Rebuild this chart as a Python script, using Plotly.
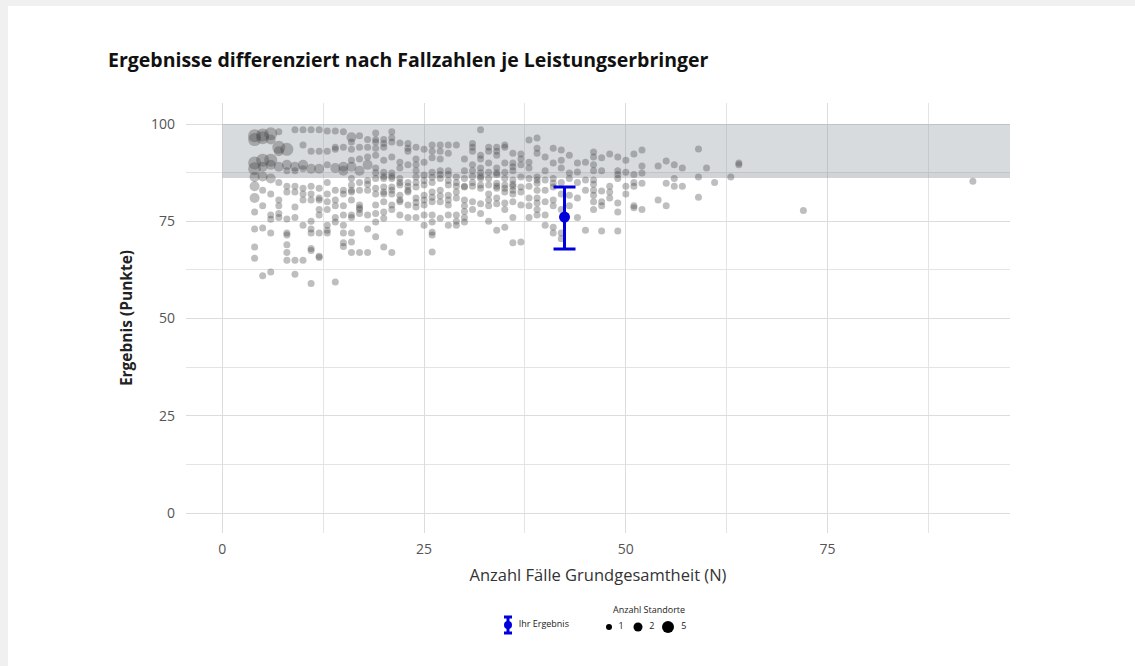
import plotly.graph_objects as go

fallzahl = [
    4, 4, 4, 4, 4, 4, 4, 4, 4, 4, 4,
    5, 5, 5, 5, 5, 5, 5, 5, 5,
    6, 6, 6, 6, 6, 6, 6, 6, 6, 6,
    7, 7, 7, 7, 7, 7, 7, 7, 7,
    8, 8, 8, 8, 8, 8, 8, 8, 8, 8, 8,
    9, 9, 9, 9, 9, 9, 9, 9, 9,
    10, 10, 10, 10, 10, 10, 10, 10, 10,
    11, 11, 11, 11, 11, 11, 11, 11, 11, 11, 11, 11,
    12, 12, 12, 12, 12, 12, 12, 12, 12, 12, 12,
    13, 13, 13, 13, 13, 13, 13, 13, 13, 13,
    14, 14, 14, 14, 14, 14, 14, 14, 14, 14,
    15, 15, 15, 15, 15, 15, 15, 15, 15, 15, 15, 15,
    16, 16, 16, 16, 16, 16, 16, 16, 16, 16, 16, 16, 16, 16, 16,
    17, 17, 17, 17, 17, 17, 17, 17, 17, 17, 17,
    18, 18, 18, 18, 18, 18, 18, 18, 18, 18,
    19, 19, 19, 19, 19, 19, 19, 19, 19, 19, 19, 19, 19, 19,
    20, 20, 20, 20, 20, 20, 20, 20, 20, 20, 20, 20, 20, 20,
    21, 21, 21, 21, 21, 21, 21, 21, 21, 21, 21, 21, 21,
    22, 22, 22, 22, 22, 22, 22, 22, 22, 22, 22,
    23, 23, 23, 23, 23, 23, 23, 23, 23, 23,
    24, 24, 24, 24, 24, 24, 24, 24, 24, 24, 24,
    25, 25, 25, 25, 25, 25, 25, 25, 25, 25,
    26, 26, 26, 26, 26, 26, 26, 26, 26, 26, 26, 26, 26, 26,
    27, 27, 27, 27, 27, 27, 27, 27, 27, 27,
    28, 28, 28, 28, 28, 28, 28, 28, 28, 28, 28,
    29, 29, 29, 29, 29, 29, 29, 29, 29,
    30, 30, 30, 30, 30, 30, 30, 30, 30, 30,
    31, 31, 31, 31, 31, 31, 31, 31, 31, 31,
    32, 32, 32, 32, 32, 32, 32, 32, 32, 32, 32,
    33, 33, 33, 33, 33, 33, 33, 33, 33, 33,
    34, 34, 34, 34, 34, 34, 34, 34, 34, 34, 34, 34,
    35, 35, 35, 35, 35, 35, 35, 35, 35, 35, 35,
    36, 36, 36, 36, 36, 36, 36, 36, 36, 36, 36, 36,
    37, 37, 37, 37, 37, 37, 37, 37,
    38, 38, 38, 38, 38, 38, 38, 38,
    39, 39, 39, 39, 39, 39, 39, 39, 39, 39, 39,
    40, 40, 40, 40, 40, 40, 40,
    41, 41, 41, 41, 41, 41, 41, 41, 41,
    42, 42, 42, 42, 42, 42, 42, 42,
    43, 43, 43, 43, 43,
    44, 44, 44, 44, 44,
    45, 45, 45, 45,
    46, 46, 46, 46, 46, 46, 46, 46, 46, 46,
    47, 47, 47, 47, 47, 47,
    48, 48, 48, 48,
    49, 49, 49, 49, 49, 49, 49,
    50, 50, 50, 50,
    51, 51, 51, 51, 51, 51,
    52, 52, 52, 52, 52,
    54, 54,
    55, 55, 55,
    56, 56, 56,
    57, 57,
    59, 59, 59,
    60,
    61,
    63,
    64, 64,
    72,
    93,
]

# Ergebnis in Punkten, gleiche Reihenfolge wie fallzahl
ergebnis = [
    97, 96, 90, 88.5, 86.4, 84, 81, 77.4, 73, 68.4, 65.5,
    97.2, 96.5, 90.7, 89, 86.5, 83, 79, 73.3, 61,
    97.5, 96, 90.7, 89.5, 86, 82, 76.6, 75.5, 72, 62,
    98, 94, 93, 89, 85, 80.5, 79, 77, 76,
    93.5, 89.5, 88, 84, 82.5, 75.6, 72, 71.5, 69, 67, 65,
    98.5, 89, 88, 84, 82.5, 78.7, 76, 65, 61.4,
    98.5, 94.6, 89.5, 88.5, 83.5, 82, 80.5, 74, 65,
    98.5, 93, 88.5, 84, 82, 80.5, 75, 73, 72, 68, 67.5, 59,
    98.5, 93, 88.5, 83.5, 81, 80.5, 78, 76.6, 72, 66, 65.7,
    98.2, 93, 89.5, 85, 82, 80, 78, 74, 72.7, 72,
    98.2, 94, 93.5, 88.7, 83, 80.5, 79, 76, 74.8, 59.4,
    98, 94, 89, 88, 83, 82, 79, 76.6, 74, 72, 69.5, 68.5,
    96.6, 95.4, 93.5, 90.7, 89, 86, 84.3, 83, 82.5, 80.5, 76.6, 76, 72, 69.7, 67,
    97, 94, 91, 88, 85, 83, 79.2, 78.5, 78, 77, 67,
    96, 94, 91.5, 89.5, 85.5, 84.5, 83, 76.6, 73, 67,
    97.7, 96, 95.4, 93.8, 92, 88.7, 87.5, 86, 83.5, 82, 79.2, 77, 74.8, 71,
    96, 95, 94, 90.7, 87.6, 86.5, 86, 83.8, 82.5, 82, 80, 77.4, 75.8, 68.4,
    98, 96.5, 95.4, 91.5, 87.4, 86.5, 86, 83.8, 83, 82, 79.2, 78, 67,
    95.1, 90.2, 88.7, 86, 85, 84.3, 81.7, 80.5, 80, 76.6, 72.2,
    95, 93.8, 93, 89.5, 85, 84, 83, 82.5, 79.2, 76,
    94, 91, 89.5, 88, 86.4, 85, 83.8, 81, 79.8, 78.7, 76,
    93.5, 90.2, 86.9, 85.5, 84.3, 81.7, 80.5, 79.2, 76.6, 74,
    94.6, 93, 91.3, 87.6, 86.3, 85, 82.5, 81.2, 80, 76.6, 74.8, 72.2, 71.5, 67.1,
    94.6, 93, 91, 88, 87, 86, 83, 81.5, 80, 75.8,
    94.6, 92.5, 88, 87, 85.5, 84.3, 81.7, 80.5, 79.2, 76.6, 74,
    94.6, 86.4, 85, 84, 82.5, 81, 76.6, 75, 74,
    91, 88, 86, 84, 83.8, 80.5, 79, 77.5, 76, 74.8,
    95, 94, 93, 89.5, 88, 86.5, 85, 84, 80, 78,
    98.5, 92, 91, 88.7, 87.5, 86.5, 86, 84.3, 83.5, 79.5, 77,
    94, 93, 90, 87.6, 86, 84.3, 82, 80.5, 79, 75,
    94, 93, 92, 88.7, 87.5, 87, 84.8, 84, 83.5, 81, 79.5, 72.7,
    94.6, 94, 90, 87.6, 86, 84.3, 83.5, 82.5, 79.7, 78, 73.5,
    92.5, 90, 89, 88, 85.6, 84.5, 84, 83, 82, 80, 76, 69.5,
    92.3, 91, 89.5, 86.4, 83.8, 82.5, 79.2, 69.7,
    95.9, 90.2, 88.7, 86, 84, 81, 79, 76,
    96.4, 93.8, 92.5, 86.4, 85.6, 84.8, 83, 81, 79.7, 78, 76.6,
    91.5, 88, 85.6, 83, 80, 76.6, 74,
    93.8, 90, 86, 84.8, 83.8, 80.5, 79, 73.5, 72,
    93.3, 90.7, 88.7, 85, 82, 78, 72, 70.5,
    92, 87.4, 86, 81.7, 79,
    90, 87.7, 85, 81, 76,
    90.2, 85.6, 83, 72.7,
    92.8, 91.5, 89.5, 88, 85.6, 84.5, 83, 81.7, 80, 78,
    91.3, 88, 82.8, 80, 79, 72.5,
    92.3, 84, 82.5, 81,
    91.5, 88, 87, 86, 79.7, 77.4, 72.5,
    90.7, 87.6, 84, 82,
    92.3, 87, 85, 84, 79, 78.5,
    93.3, 89.2, 87.4, 84.8, 78,
    89.2, 80.5,
    90.5, 84.8, 79,
    89.5, 86, 84,
    88.7, 84,
    93.6, 86.4, 81.2,
    88.7,
    85,
    86.4,
    90, 89.5,
    77.8,
    85.3,
]

# Anzahl Standorte je Leistungserbringer (ab N = 19 nur noch 1)
standorte = [
    5, 5, 5, 5, 2, 2, 2, 1, 1, 1, 1,
    5, 5, 5, 2, 2, 1, 1, 1, 1,
    5, 2, 5, 2, 2, 1, 1, 1, 1, 1,
    1, 5, 2, 2, 1, 1, 1, 1, 1,
    5, 2, 1, 1, 1, 1, 1, 1, 1, 1, 1,
    1, 2, 1, 1, 1, 1, 1, 1, 1,
    1, 1, 2, 1, 1, 1, 1, 1, 1,
    1, 1, 2, 1, 1, 1, 1, 1, 1, 1, 1, 1,
    1, 1, 2, 1, 1, 1, 1, 1, 1, 1, 1,
    1, 1, 1, 1, 1, 1, 1, 1, 1, 1,
    1, 1, 1, 2, 1, 1, 1, 1, 1, 1,
    1, 1, 2, 2, 1, 1, 1, 1, 1, 1, 1, 1,
    2, 1, 1, 1, 2, 1, 1, 1, 1, 1, 1, 1, 1, 1, 1,
    1, 1, 1, 2, 1, 1, 1, 1, 1, 1, 1,
    1, 1, 1, 2, 1, 1, 1, 1, 1, 1,
]
standorte = standorte + [1] * (len(fallzahl) - len(standorte))

# Ihr Ergebnis mit Vertrauensbereich
ihr_n = 42.4
ihr_ergebnis = 76.1
ihr_ci = [67.9, 83.8]

# Referenzbereich (grau hinterlegt)
referenz = [86.1, 100]

legende_standorte = [1, 2, 5]

assert len(fallzahl) == len(ergebnis) == len(standorte)

# ---- Layout-Konstanten (Pixel im 1135x666-Bild)
W, H = 1135, 666
punktgroesse = {1: 7, 2: 10, 5: 13}
blau = "#0000dd"
schrift = "Open Sans"
nbsp = "\u00a0"
band = "rgba(144,152,161,0.35)"

fig = go.Figure()

fig.add_trace(
    go.Scatter(
        x=fallzahl,
        y=ergebnis,
        mode="markers",
        marker=dict(
            size=[punktgroesse[s] for s in standorte],
            color="rgba(70,70,70,0.5)",
            line=dict(width=0)
        ),
        showlegend=False
    )
)

fig.add_trace(
    go.Scatter(
        x=[ihr_n],
        y=[ihr_ergebnis],
        mode="markers",
        marker=dict(size=11, color=blau),
        error_y=dict(
            type="data",
            symmetric=False,
            array=[ihr_ci[1] - ihr_ergebnis],
            arrayminus=[ihr_ergebnis - ihr_ci[0]],
            color=blau,
            thickness=3,
            width=11
        ),
        showlegend=False
    )
)

# ---- Legende unten (eigene, unsichtbare Achse in Pixeln)
fig.add_trace(
    go.Scatter(
        x=[508],
        y=[625],
        xaxis="x2",
        yaxis="y2",
        mode="markers+text",
        marker=dict(size=8, color=blau, opacity=1),
        error_y=dict(type="constant", value=8, color=blau, thickness=3, width=4),
        text=[nbsp * 2 + "Ihr Ergebnis"],
        textposition="middle right",
        textfont=dict(size=9, color="#222222"),
        showlegend=False,
        hoverinfo="skip"
    )
)

fig.add_trace(
    go.Scatter(
        x=[609, 638, 668],
        y=[627, 627, 627],
        xaxis="x2",
        yaxis="y2",
        mode="markers+text",
        marker=dict(
            size=[punktgroesse[s] - 1 for s in legende_standorte],
            color="#000000",
            opacity=1,
            line=dict(width=0)
        ),
        text=[nbsp * 2 + str(s) for s in legende_standorte],
        textposition="middle right",
        textfont=dict(size=9, color="#222222"),
        showlegend=False,
        hoverinfo="skip"
    )
)

fig.add_annotation(
    xref="x2", yref="y2", x=649, y=609,
    text="Anzahl Standorte", showarrow=False,
    font=dict(size=9, color="#222222")
)

# Referenzbereich (halbtransparent über den Gitterlinien)
fig.add_shape(
    type="rect", xref="x", yref="y",
    x0=0, x1=200, y0=referenz[0], y1=referenz[1],
    fillcolor=band, line_width=0, layer="between"
)
fig.add_shape(
    type="rect", xref="x", yref="y",
    x0=0, x1=200, y0=referenz[0], y1=87.6,
    fillcolor="rgba(144,152,161,0.1)", line_width=0, layer="between"
)

# weisses Blatt mit grauem Rand oben/links
fig.add_shape(
    type="rect", xref="paper", yref="paper",
    x0=8 / W, x1=1.1, y0=-0.1, y1=1 - 6 / H,
    fillcolor="white", line_width=0, layer="below"
)

fig.update_layout(
    width=W,
    height=H,
    margin=dict(l=0, r=0, t=0, b=0),
    paper_bgcolor="#f0f0f0",
    plot_bgcolor="rgba(0,0,0,0)",
    font=dict(family=schrift, color="#333333"),
    showlegend=False,
    title=dict(
        text="<b>Ergebnisse differenziert nach Fallzahlen je Leistungserbringer</b>",
        x=108 / W,
        xanchor="left",
        y=1 - 60 / H,
        yanchor="middle",
        font=dict(size=19.5, color="#111111")
    ),
    xaxis=dict(
        domain=[186 / W, 1010 / W],
        anchor="y",
        range=[-4.5, 97.6],
        tickvals=[0, 25, 50, 75],
        showgrid=True,
        gridcolor="#dcdcdc",
        minor=dict(dtick=12.5, tick0=0, showgrid=True, gridcolor="#e4e4e4"),
        zeroline=False,
        showline=False,
        ticks="",
        ticklabelstandoff=6,
        tickfont=dict(size=14, color="#555555"),
        title=dict(
            text="Anzahl Fälle Grundgesamtheit (N)",
            font=dict(size=16.5, color="#333333"),
            standoff=12
        )
    ),
    yaxis=dict(
        domain=[(H - 533) / H, (H - 103) / H],
        anchor="x",
        range=[-5.1, 105.4],
        tickvals=[0, 25, 50, 75, 100],
        showgrid=True,
        gridcolor="#dcdcdc",
        minor=dict(dtick=12.5, tick0=0, showgrid=True, gridcolor="#e4e4e4"),
        zeroline=False,
        showline=False,
        ticks="",
        ticklabelstandoff=10,
        tickfont=dict(size=14, color="#555555"),
        title=dict(
            text="<b>Ergebnis (Punkte)</b>",
            font=dict(size=15.5, color="#222222"),
            standoff=14
        )
    ),
    xaxis2=dict(
        domain=[495 / W, 705 / W],
        anchor="y2",
        range=[495, 705],
        visible=False,
        fixedrange=True
    ),
    yaxis2=dict(
        domain=[(H - 640) / H, (H - 600) / H],
        anchor="x2",
        range=[640, 600],
        visible=False,
        fixedrange=True
    )
)

fig.write_html(
    "out.html",
    config={"displayModeBar": False},
    post_script="document.body.style.margin='0';"
)
